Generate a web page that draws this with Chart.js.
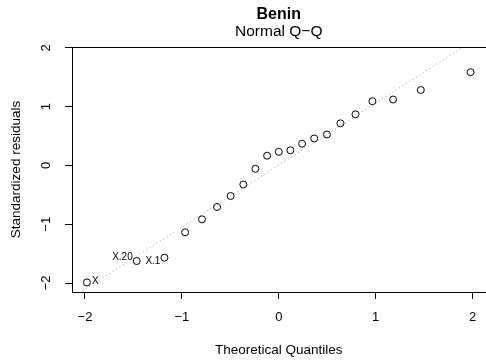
<!DOCTYPE html>
<html>
<head>
<meta charset="utf-8">
<script src="https://cdn.jsdelivr.net/npm/chart.js@4.4.1/dist/chart.umd.min.js"></script>
<style>
  html, body { margin: 0; padding: 0; background: #fff; overflow: hidden; }
  #wrap { width: 490px; height: 364px; }
</style>
</head>
<body>
<div id="wrap"><canvas id="qq" width="490" height="364"></canvas></div>
<script>
// sorted theoretical quantiles against standardized residuals
var theoretical = [-1.98, -1.466, -1.18, -0.967, -0.792, -0.637, -0.497, -0.366, -0.241, -0.12, 0,
                   0.12, 0.241, 0.366, 0.497, 0.637, 0.792, 0.967, 1.18, 1.466, 1.98];
var residuals = [-1.99, -1.626, -1.569, -1.137, -0.916, -0.706, -0.519, -0.323, -0.056, 0.167, 0.233,
                 0.259, 0.371, 0.46, 0.528, 0.718, 0.871, 1.094, 1.123, 1.285, 1.588];
// qq reference line (through the quartiles)
var lineX = [-2.2, 2.2];
var lineY = [-2.317, 2.329];
// names of the three largest residuals
var labelIndex = [0, 1, 2];
var labelText = ['X', 'X.20', 'X.1'];
var xTicks = [-2, -1, 0, 1, 2];
var yTicks = [-2, -1, 0, 1, 2];

var FONT = '"Liberation Sans", Arial, sans-serif';
// where each name sits next to its point: dx, dy, align
var labelPlace = [[5, -1, 'left'], [-4, -4, 'right'], [-4, 4, 'right']];

function minus(v) { return String(v).replace('-', '\u2212'); }

var extras = {
  id: 'extras',
  afterDraw: function (chart) {
    var ctx = chart.ctx, a = chart.chartArea;
    var xs = chart.scales.x, ys = chart.scales.y;
    ctx.save();

    // top edge of the plot box (left and bottom come from the axis borders)
    ctx.strokeStyle = '#000';
    ctx.lineWidth = 1;
    var t = Math.round(a.top) + 0.5;
    ctx.beginPath();
    ctx.moveTo(Math.round(a.left), t);
    ctx.lineTo(a.right + 2, t);
    ctx.stroke();

    // point names
    ctx.fillStyle = '#000';
    ctx.font = '10px ' + FONT;
    ctx.textBaseline = 'middle';
    labelIndex.forEach(function (i, k) {
      var p = labelPlace[k];
      ctx.textAlign = p[2];
      ctx.fillText(labelText[k], xs.getPixelForValue(theoretical[i]) + p[0],
                   ys.getPixelForValue(residuals[i]) + p[1]);
    });

    // y tick labels, turned like the axis title
    ctx.font = '13px ' + FONT;
    ctx.textAlign = 'center';
    ctx.textBaseline = 'alphabetic';
    yTicks.forEach(function (v) {
      ctx.save();
      ctx.translate(a.left - 22, ys.getPixelForValue(v));
      ctx.rotate(-Math.PI / 2);
      ctx.fillText(minus(v), 0, 0);
      ctx.restore();
    });

    // headings
    var cx = (a.left + a.right) / 2;
    ctx.textBaseline = 'middle';
    ctx.font = 'bold 16px ' + FONT;
    ctx.fillText('Benin', cx, 14.5);
    ctx.font = '15.5px ' + FONT;
    ctx.fillText('Normal Q\u2212Q', cx, 32);
    ctx.restore();
  }
};

new Chart(document.getElementById('qq'), {
  type: 'scatter',
  data: {
    datasets: [{
      data: theoretical.map(function (x, i) { return { x: x, y: residuals[i] }; }),
      pointStyle: 'circle',
      pointRadius: 3.5,
      pointHoverRadius: 3.5,
      pointBorderWidth: 1,
      pointBackgroundColor: 'rgba(0,0,0,0)',
      pointBorderColor: '#000',
      order: 1
    }, {
      data: lineX.map(function (x, i) { return { x: x, y: lineY[i] }; }),
      showLine: true,
      pointRadius: 0,
      borderColor: '#9a9a9a',
      borderWidth: 1,
      borderDash: [1, 3],
      order: 2
    }]
  },
  options: {
    responsive: false,
    animation: false,
    events: [],
    layout: { padding: { top: 47, right: 1, left: 0, bottom: 0 } },
    plugins: { legend: { display: false }, tooltip: { enabled: false } },
    scales: {
      x: {
        type: 'linear',
        min: -2.134,
        max: 2.134,
        afterBuildTicks: function (s) { s.ticks = xTicks.map(function (v) { return { value: v }; }); },
        afterFit: function (s) { s.height = 72; },
        ticks: { color: '#000', font: { size: 13, family: FONT }, padding: 11, maxRotation: 0, callback: minus },
        grid: { drawOnChartArea: false, drawTicks: true, tickLength: 7, color: '#000' },
        border: { display: true, color: '#000' },
        title: { display: true, text: 'Theoretical Quantiles', color: '#000',
                 font: { size: 13.5, family: FONT }, padding: { top: 0, bottom: 6 } }
      },
      y: {
        type: 'linear',
        min: -2.153,
        max: 2.017,
        afterBuildTicks: function (s) { s.ticks = yTicks.map(function (v) { return { value: v }; }); },
        afterFit: function (s) { s.width = 72; },
        ticks: { color: '#000', font: { size: 13, family: FONT }, callback: function () { return ''; } },
        grid: { drawOnChartArea: false, drawTicks: true, tickLength: 7, color: '#000' },
        border: { display: true, color: '#000' },
        title: { display: true, text: 'Standardized residuals', color: '#000',
                 font: { size: 13.5, family: FONT }, padding: { top: 8, bottom: 0 } }
      }
    }
  },
  plugins: [extras]
});
</script>
</body>
</html>
